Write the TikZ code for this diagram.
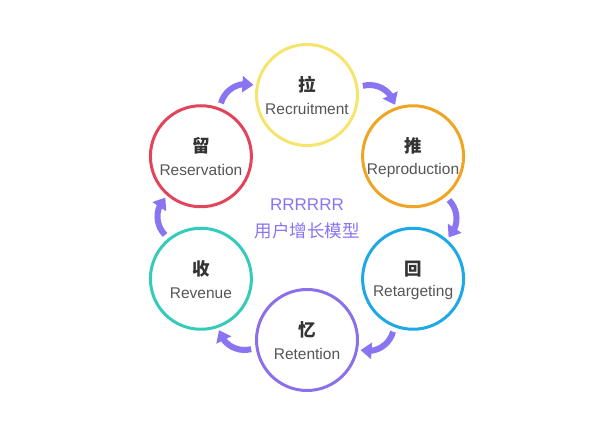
\documentclass[tikz,border=0pt]{standalone}
\usepackage{fontspec}
\setmainfont{Liberation Sans}
\newfontfamily\cjk{Noto Sans CJK SC}
\usetikzlibrary{arrows.meta,bending}
\definecolor{ringYellow}{HTML}{F6E46C}
\definecolor{ringOrange}{HTML}{F0A423}
\definecolor{ringBlue}{HTML}{1FA8E6}
\definecolor{ringPurple}{HTML}{8B70EA}
\definecolor{ringTeal}{HTML}{35CBBB}
\definecolor{ringRed}{HTML}{E2445C}
\definecolor{flowPurple}{HTML}{8A74F2}
\definecolor{labelGray}{HTML}{555555}
\newcommand{\zhsize}{\fontsize{17.5}{19}\selectfont}
\newcommand{\ensize}{\fontsize{15.5}{17}\selectfont}

\begin{document}
\begin{tikzpicture}[
    ring/.style={circle, draw=#1, line width=3pt, minimum size=101pt,
        inner sep=0pt},
    hanzi/.style={font=\cjk\bfseries\zhsize, text=black!80, inner sep=0pt},
    eng/.style={font=\ensize, text=labelGray, inner sep=0pt},
    flow/.style={draw=flowPurple, line width=6pt, bend left=45,
        -{Triangle[width=16pt,length=11pt]}}]
    \useasboundingbox (0,0) rectangle (598pt,442pt);

    \begin{scope}[shift={(307pt,224.5pt)}]
    \node[ring=ringYellow] (rec) at (90:122.5pt) {};
    \node[ring=ringOrange] (rep) at (30:122.5pt) {};
    \node[ring=ringBlue]   (ret) at (-30:122.5pt) {};
    \node[ring=ringPurple] (rtn) at (-90:122.5pt) {};
    \node[ring=ringTeal]   (rev) at (-150:122.5pt) {};
    \node[ring=ringRed]    (res) at (150:122.5pt) {};

    \node[hanzi] (rec-zh) at ([yshift=10pt]rec.center) {拉};
    \node[eng]   (rec-en) at ([yshift=-14pt]rec.center) {Recruitment};
    \node[hanzi] (rep-zh) at ([yshift=10pt]rep.center) {推};
    \node[eng]   (rep-en) at ([yshift=-14pt]rep.center) {Reproduction};
    \node[hanzi] (ret-zh) at ([yshift=10pt]ret.center) {回};
    \node[eng]   (ret-en) at ([yshift=-14pt]ret.center) {Retargeting};
    \node[hanzi] (rtn-zh) at ([yshift=10pt]rtn.center) {忆};
    \node[eng]   (rtn-en) at ([yshift=-14pt]rtn.center) {Retention};
    \node[hanzi] (rev-zh) at ([yshift=10pt]rev.center) {收};
    \node[eng]   (rev-en) at ([yshift=-14pt]rev.center) {Revenue};
    \node[hanzi] (res-zh) at ([yshift=10pt]res.center) {留};
    \node[eng]   (res-en) at ([yshift=-14pt]res.center) {Reservation};

    \node[font=\fontsize{17}{19}\selectfont, text=flowPurple,
        inner sep=0pt] (title) at (0pt,13pt) {RRRRRR};
    \node[font=\cjk\zhsize, text=flowPurple, inner sep=0pt]
        (subtitle) at (0pt,-13pt) {用户增长模型};

    % arrows between the rings
    \coordinate (res-a) at (127:143pt);  \coordinate (res-b) at (112:143pt);
    \coordinate (rec-a) at (67:143pt);   \coordinate (rec-b) at (52:143pt);
    \coordinate (rep-a) at (7:143pt);    \coordinate (rep-b) at (-8:143pt);
    \coordinate (ret-a) at (-53:143pt);  \coordinate (ret-b) at (-68:143pt);
    \coordinate (rtn-a) at (-113:143pt); \coordinate (rtn-b) at (-128:143pt);
    \coordinate (rev-a) at (187:143pt);  \coordinate (rev-b) at (172:143pt);
    \draw[flow] (res-a) to (res-b);
    \draw[flow] (rec-a) to (rec-b);
    \draw[flow] (rep-a) to (rep-b);
    \draw[flow] (ret-a) to (ret-b);
    \draw[flow] (rtn-a) to (rtn-b);
    \draw[flow] (rev-a) to (rev-b);
    \end{scope}
\end{tikzpicture}
\end{document}
